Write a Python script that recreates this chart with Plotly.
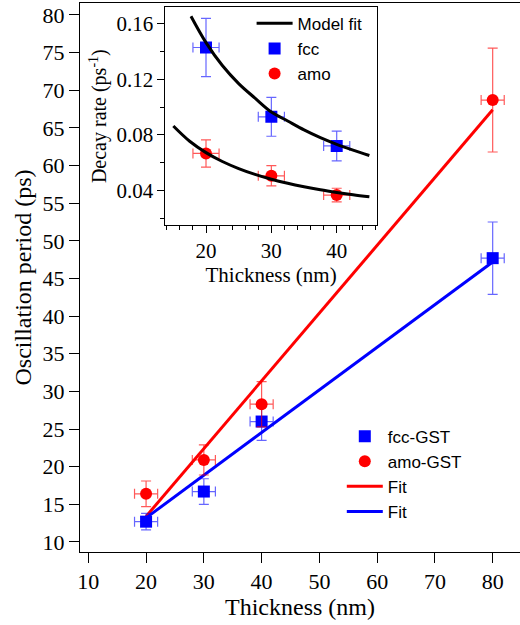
import plotly.graph_objects as go

# ---------------- main panel data ----------------
thickness = [20, 30, 40, 80]
thickness_err = [2, 2, 2, 2]
fcc_period = [12.7, 16.7, 26.0, 47.7]
fcc_period_err = [1.1, 1.7, 2.5, 4.8]
amo_period = [16.4, 20.9, 28.3, 68.7]
amo_period_err = [1.7, 2.0, 3.0, 6.9]
fit_x = [20, 80]
amo_fit_y = [13.4, 67.4]
fcc_fit_y = [13.2, 47.2]
main_xticks = [10, 20, 30, 40, 50, 60, 70, 80]
main_yticks = [10, 15, 20, 25, 30, 35, 40, 45, 50, 55, 60, 65, 70, 75, 80]

# ---------------- inset data ----------------
inset_thickness = [20, 30, 40]
inset_thickness_err = [2, 2, 2]
fcc_decay = [0.143, 0.093, 0.072]
fcc_decay_err = [0.021, 0.014, 0.0107]
amo_decay = [0.0666, 0.0505, 0.0366]
amo_decay_err = [0.0098, 0.0073, 0.0049]
fcc_model_x = [17.7, 20, 22.5, 25, 27.5, 30, 32.5, 35, 37.5, 40, 42.5, 45]
fcc_model_y = [0.1655, 0.1465, 0.130, 0.117, 0.1065, 0.0965, 0.090, 0.0836, 0.078, 0.0732, 0.069, 0.0651]
amo_model_x = [15, 17.5, 20, 22.5, 25, 27.5, 30, 32.5, 35, 37.5, 40, 42.5, 45]
amo_model_y = [0.0864, 0.0754, 0.0672, 0.0608, 0.0557, 0.0515, 0.0480, 0.0451, 0.0426, 0.0404, 0.0385, 0.0368, 0.0353]
inset_yticks = [0.04, 0.08, 0.12, 0.16]
inset_xticks = [20, 30, 40]

RED = "#ff0000"
BLUE = "#0000ff"
RED_ERR = "rgba(255,0,0,0.65)"
BLUE_ERR = "rgba(0,0,255,0.6)"
SERIF = "Liberation Serif, Times New Roman, Times, serif"
SANS = "Liberation Sans, Arial, Helvetica, sans-serif"

fig = go.Figure()

# main fits
fig.add_trace(go.Scatter(x=fit_x, y=amo_fit_y, mode="lines", name="Fit",
                         line=dict(color=RED, width=3), legendrank=3))
fig.add_trace(go.Scatter(x=fit_x, y=fcc_fit_y, mode="lines", name="Fit",
                         line=dict(color=BLUE, width=3), legendrank=4))
# main points
fig.add_trace(go.Scatter(
    x=thickness, y=fcc_period, mode="markers", name="fcc-GST", legendrank=1,
    marker=dict(symbol="square", size=12, color=BLUE),
    error_x=dict(type="data", array=thickness_err, color=BLUE_ERR, thickness=1.2, width=5),
    error_y=dict(type="data", array=fcc_period_err, color=BLUE_ERR, thickness=1.2, width=5)))
fig.add_trace(go.Scatter(
    x=thickness, y=amo_period, mode="markers", name="amo-GST", legendrank=2,
    marker=dict(symbol="circle", size=12, color=RED),
    error_x=dict(type="data", array=thickness_err, color=RED_ERR, thickness=1.2, width=5),
    error_y=dict(type="data", array=amo_period_err, color=RED_ERR, thickness=1.2, width=5)))

# inset points
fig.add_trace(go.Scatter(
    x=inset_thickness, y=fcc_decay, mode="markers", name="fcc", legendrank=2,
    xaxis="x2", yaxis="y2", legend="legend2",
    marker=dict(symbol="square", size=12, color=BLUE),
    error_x=dict(type="data", array=inset_thickness_err, color=BLUE_ERR, thickness=1.2, width=5),
    error_y=dict(type="data", array=fcc_decay_err, color=BLUE_ERR, thickness=1.2, width=5)))
fig.add_trace(go.Scatter(
    x=inset_thickness, y=amo_decay, mode="markers", name="amo", legendrank=3,
    xaxis="x2", yaxis="y2", legend="legend2",
    marker=dict(symbol="circle", size=12, color=RED),
    error_x=dict(type="data", array=inset_thickness_err, color=RED_ERR, thickness=1.2, width=5),
    error_y=dict(type="data", array=amo_decay_err, color=RED_ERR, thickness=1.2, width=5)))
# inset model fits
fig.add_trace(go.Scatter(x=fcc_model_x, y=fcc_model_y, mode="lines", name="Model fit",
                         legendrank=1, xaxis="x2", yaxis="y2", legend="legend2",
                         line=dict(color="black", width=3, shape="spline")))
fig.add_trace(go.Scatter(x=amo_model_x, y=amo_model_y, mode="lines", name="Model fit",
                         showlegend=False, xaxis="x2", yaxis="y2",
                         line=dict(color="black", width=3, shape="spline")))

tickfont = dict(family=SERIF, size=22, color="black")
fig.update_layout(
    width=520, height=625,
    margin=dict(l=80, r=0, t=3, b=73, autoexpand=False),
    paper_bgcolor="white", plot_bgcolor="white",
    font=dict(family=SERIF, color="black"),
    xaxis=dict(domain=[0, 1], range=[8.56, 84.73], tickvals=main_xticks,
               ticks="outside", ticklen=10, tickwidth=1, tickcolor="black",
               showline=True, linecolor="black", linewidth=1, mirror=True,
               showgrid=False, zeroline=False, tickfont=tickfont, automargin=False,
               title=dict(text="Thickness (nm)", font=dict(family=SERIF, size=24), standoff=4)),
    yaxis=dict(domain=[0, 1], range=[8.67, 81.59], tickvals=main_yticks,
               ticks="outside", ticklen=10, tickwidth=1, tickcolor="black",
               showline=True, linecolor="black", linewidth=1,
               showgrid=False, zeroline=False, tickfont=tickfont, automargin=False,
               title=dict(text="Oscillation period (ps)", font=dict(family=SERIF, size=24), standoff=4)),
    xaxis2=dict(domain=[0.1943, 0.6743], anchor="y2", range=[13.8, 46.12], tickvals=inset_xticks,
                ticks="outside", ticklen=7, tickwidth=1, tickcolor="black",
                minor=dict(dtick=2, tick0=0, ticks="outside", ticklen=4, tickcolor="black"),
                showline=True, linecolor="black", linewidth=1, mirror=True, automargin=False,
                showgrid=False, zeroline=False, tickfont=dict(family=SERIF, size=21, color="black"),
                title=dict(text="Thickness (nm)", font=dict(family=SERIF, size=21), standoff=0)),
    yaxis2=dict(domain=[0.5956, 0.9922], anchor="x2", range=[0.015, 0.172], tickvals=inset_yticks,
                tickformat=".2f", automargin=False,
                ticks="outside", ticklen=7, tickwidth=1, tickcolor="black",
                minor=dict(dtick=0.02, tick0=0, ticks="outside", ticklen=4, tickcolor="black"),
                showline=True, linecolor="black", linewidth=1, mirror=True,
                showgrid=False, zeroline=False, tickfont=dict(family=SERIF, size=21, color="black"),
                title=dict(text="Decay rate (ps<sup>-1</sup>)", font=dict(family=SERIF, size=20), standoff=4)),
    legend=dict(x=0.595, y=0.243, xanchor="left", yanchor="top",
                bgcolor="rgba(0,0,0,0)", borderwidth=0, itemwidth=36,
                font=dict(family=SANS, size=17, color="black")),
    legend2=dict(x=0.39, y=0.995, xanchor="left", yanchor="top",
                 bgcolor="rgba(0,0,0,0)", borderwidth=0, itemwidth=36,
                 font=dict(family=SANS, size=17, color="black")),
    showlegend=True,
)

fig.write_html("out.html", config={"displayModeBar": False},
               post_script="document.body.style.margin='0';document.body.style.padding='0';")
